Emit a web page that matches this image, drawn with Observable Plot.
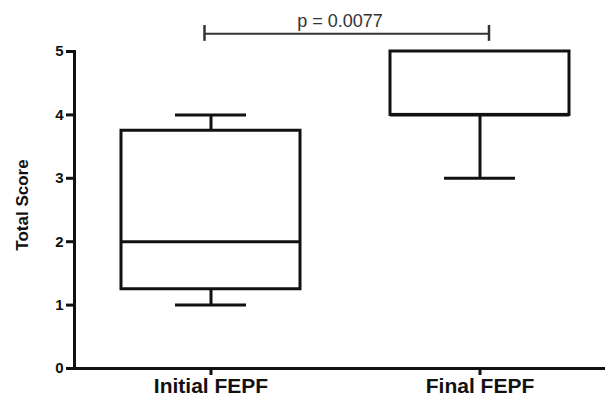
<!DOCTYPE html>
<html><head><meta charset="utf-8">
<script src="https://cdn.jsdelivr.net/npm/d3@7"></script>
<script src="https://cdn.jsdelivr.net/npm/@observablehq/plot@0.6"></script>
<style>body{margin:0;background:#fff}</style>
</head><body><div id="chart"></div>
<script>
const groups = ["Initial FEPF", "Final FEPF"];
const mins = [1, 3];
const q1s = [1.25, 4];
const medians = [2, 4];
const q3s = [3.75, 5];
const maxs = [4, 5];
const yTicks = [0, 1, 2, 3, 4, 5];
const yLabel = "Total Score";
const pLabel = "p = 0.0077";
const bracketY = 5.28;
const bracketTickLow = 5.16;
const bracketTickHigh = 5.41;
const pTextY = 5.47;

const boxes = groups.map((g, i) => ({group: g, min: mins[i], q1: q1s[i], median: medians[i], q3: q3s[i], max: maxs[i]}));
const ink = "#111";
const line = {stroke: ink, strokeWidth: 3};

const plot = Plot.plot({
  width: 605, height: 405,
  marginLeft: 74, marginRight: 0, marginTop: 51, marginBottom: 37,
  style: {fontFamily: "'Liberation Sans', Arial, sans-serif", background: "#fff", color: ink},
  x: {domain: groups, paddingInner: 0.336, paddingOuter: 0.153, align: 0.558, axis: null},
  y: {domain: [0, 5], axis: null},
  marks: [
    Plot.frame({anchor: "left", ...line}),
    Plot.ruleY([0], line),
    Plot.axisY({ticks: yTicks, tickFormat: "d", tickSize: 8, tickPadding: 3, fontSize: 15, fontWeight: "bold", label: null, strokeWidth: 3, stroke: ink, fill: ink}),
    Plot.axisX({tickSize: 7, tickPadding: 3, fontSize: 21, fontWeight: "bold", label: null, strokeWidth: 3, stroke: ink, fill: ink}),
    Plot.text([yLabel], {frameAnchor: "left", textAnchor: "middle", rotate: -90, dx: -52, dy: -5, fontSize: 17, fontWeight: "bold", fill: ink}),
    Plot.ruleX(boxes, {x: "group", y1: "min", y2: "q1", ...line}),
    Plot.ruleX(boxes, {x: "group", y1: "q3", y2: "max", ...line}),
    Plot.tickY(boxes, {x: "group", y: "min", insetLeft: 54, insetRight: 54, ...line}),
    Plot.tickY(boxes, {x: "group", y: "max", insetLeft: 54, insetRight: 54, ...line}),
    Plot.barY(boxes, {x: "group", y1: "q1", y2: "q3", fill: "white", ...line}),
    Plot.tickY(boxes, {x: "group", y: "median", ...line}),
    Plot.ruleY([bracketY], {y: d => d, x1: () => groups[0], x2: () => groups[1], insetLeft: 83, insetRight: 81, stroke: "#333", strokeWidth: 2}),
    Plot.ruleX([groups[0]], {x: d => d, y1: () => bracketTickLow, y2: () => bracketTickHigh, dx: -6.5, stroke: "#333", strokeWidth: 2.5}),
    Plot.ruleX([groups[1]], {x: d => d, y1: () => bracketTickLow, y2: () => bracketTickHigh, dx: 9, stroke: "#333", strokeWidth: 2.5}),
    Plot.text([pLabel], {y: () => pTextY, fontSize: 18, fill: "#333"})
  ]
});
document.getElementById("chart").append(plot);
</script>
</body></html>
